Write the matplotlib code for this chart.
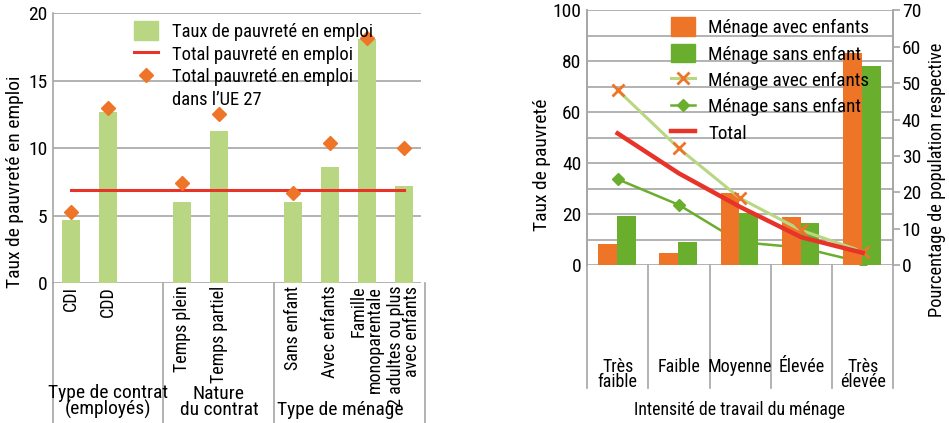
import matplotlib
matplotlib.use("Agg")
import matplotlib.pyplot as plt
from matplotlib.patches import Patch
from matplotlib.lines import Line2D
import matplotlib.transforms as mtransforms

plt.rcParams['font.family'] = ['Roboto Condensed', 'DejaVu Sans']

# ---- left chart data ----
left_labels = ["CDI", "CDD", "Temps plein", "Temps partiel", "Sans enfant",
               "Avec enfants", "Famille\nmonoparentale", "2 adultes ou plus\navec enfants"]
left_pos = [0, 1, 3, 4, 6, 7, 8, 9]
left_groups = ["Type de contrat\n(employés)", "Nature\ndu contrat", "Type de ménage"]
left_group_members = [[0, 1], [2, 3], [4, 5, 6, 7]]
taux_emploi = [4.7, 12.7, 6.0, 11.3, 6.0, 8.6, 18.1, 7.2]
ue27 = [5.3, 13.0, 7.4, 12.5, 6.7, 10.4, 18.2, 10.0]
total_emploi = 6.9

# ---- right chart data ----
intensite = ["[0-20%]", "[20-40%]", "[40-60%]", "[60-80%]", "[80-100%]"]
niveaux = ["Très\nfaible", "Faible", "Moyenne", "Élevée", "Très\nélevée"]
pop_avec = [5.8, 3.2, 19.8, 13.2, 58.4]
pop_sans = [13.5, 6.3, 14.4, 11.5, 54.7]
taux_avec = [68.7, 45.8, 26.2, 13.6, 5.3]
taux_sans = [33.7, 23.6, 9.0, 6.8, 1.0]
taux_total = [51.7, 36.0, 22.8, 10.9, 4.8]

orange = "#EE7428"
green = "#6AAE2D"
light_green = "#B9D782"
red = "#E73328"
grid_gray = "#A6A6A6"

fig = plt.figure(figsize=(9.49, 4.23), dpi=100)
W, H = 949.0, 423.0

# ================= left chart =================
ax = fig.add_axes([53 / W, 1 - 283 / H, (420.5 - 53) / W, (283 - 13.3) / H])
ax.bar(left_pos, taux_emploi, width=0.51, color=light_green, zorder=2)
ax.plot([left_pos[0], left_pos[-1]], [total_emploi, total_emploi], color=red, lw=2.2, zorder=3)
ax.plot(left_pos, ue27, linestyle="none", marker="D", ms=7, color=orange, zorder=4)
ax.set_xlim(-0.486, 9.446)
ax.set_ylim(0, 20)
ax.set_yticks([0, 5, 10, 15, 20])
ax.yaxis.grid(True, color=grid_gray, lw=1.2)
ax.set_axisbelow(True)
for s in ["top", "right", "bottom"]:
    ax.spines[s].set_visible(False)
ax.spines["left"].set_color(grid_gray)
ax.spines["left"].set_linewidth(1.2)
ax.tick_params(axis="y", length=0, pad=4, labelsize=14)
ax.set_xticks(left_pos)
ax.set_xticklabels(left_labels, rotation=90, va="top", ha="center",
                   multialignment="right", fontsize=13, linespacing=0.85)
ax.tick_params(axis="x", length=0, pad=2)

# group separators and labels
trans = mtransforms.blended_transform_factory(ax.transData, ax.transAxes)
seps = [left_pos[0] - 0.486]
for b in left_group_members[1:]:
    seps.append(left_pos[b[0]] - 0.5)
seps.append(left_pos[-1] + 0.57)
for sx in seps:
    ax.plot([sx, sx], [0, -0.53], transform=trans, color=grid_gray, lw=1.2, clip_on=False)
for i, g in enumerate(left_groups):
    cx = (seps[i] + seps[i + 1]) / 2 - (0.25 if i == 2 else 0)
    ax.text(cx, -0.505, g, transform=trans, ha="center", va="bottom", fontsize=14,
            linespacing=0.85)

fig.text(15 / W, 1 - 182 / H, "Taux de pauvreté en emploi", rotation=90,
         ha="center", va="center", fontsize=14)

h_left = [Patch(color=light_green),
          Line2D([], [], color=red, lw=2.2),
          Line2D([], [], linestyle="none", marker="D", ms=7, color=orange),
          Line2D([], [], linestyle="none")]
l_left = ["Taux de pauvreté en emploi", "Total pauvreté en emploi",
          "Total pauvreté en emploi", "dans l\u2019UE 27"]
fig.legend(h_left, l_left, loc="upper left", bbox_to_anchor=(134 / W, 1 - 21.5 / H),
           frameon=False, fontsize=13.3, handlelength=1.3, handleheight=1.15,
           handletextpad=0.75, labelspacing=0.18, borderpad=0, borderaxespad=0)

# ================= right chart =================
ax1 = fig.add_axes([587 / W, 1 - 265 / H, (893.3 - 587) / W, (265 - 10.4) / H])
ax2 = ax1.twinx()
x = list(range(len(intensite)))

ax1.plot(x, taux_sans, color=green, lw=1.8, marker="D", ms=6, zorder=3)
ax2.bar([i - 0.165 for i in x], pop_avec, width=0.305, color=orange, zorder=2)
ax2.bar([i + 0.14 for i in x], pop_sans, width=0.305, color=green, zorder=2)
ax2.plot(x, taux_avec, color=light_green, lw=2.2, marker="x", ms=8, mew=2,
         mec=orange, transform=ax1.transData, zorder=4)
ax2.plot(x, taux_total, color=red, lw=3.2, transform=ax1.transData, zorder=5)

ax1.set_xlim(-0.5, 4.5)
ax2.set_xlim(-0.5, 4.5)
ax1.set_ylim(0, 100)
ax2.set_ylim(0, 70)
ax1.set_yticks(range(0, 101, 10))
ax1.set_yticklabels([str(v) if v % 20 == 0 else "" for v in range(0, 101, 10)])
ax1.yaxis.grid(True, color=grid_gray, lw=1.2)
ax1.set_axisbelow(True)
ax1.tick_params(axis="y", length=0, pad=4, labelsize=14)
ax2.set_yticks(range(0, 71, 10))
ax2.tick_params(axis="y", length=5, width=1.2, color=grid_gray, pad=1, labelsize=14)
for a in (ax1, ax2):
    a.spines["top"].set_visible(False)
    a.spines["bottom"].set_visible(False)
    a.spines["left"].set_color(grid_gray)
    a.spines["right"].set_color(grid_gray)
    a.spines["left"].set_linewidth(1.2)
    a.spines["right"].set_linewidth(1.2)
ax1.set_xticks(x)
ax1.set_xticklabels(intensite, rotation=90, va="top", ha="center", fontsize=14)
ax1.tick_params(axis="x", length=0, pad=5)
ax2.set_xticks([])

trans1 = mtransforms.blended_transform_factory(ax1.transData, ax1.transAxes)
for sx in [i - 0.5 for i in range(len(intensite) + 1)]:
    ax1.plot([sx, sx], [0, -0.485], transform=trans1, color=grid_gray, lw=1.2, clip_on=False)
for i, n in enumerate(niveaux):
    ax1.text(i, -0.365, n, transform=trans1, ha="center", va="top", fontsize=13,
             linespacing=0.8)

fig.text(740 / W, 1 - 410 / H, "Intensité de travail du ménage", ha="center",
         va="center", fontsize=12.8)
fig.text(542 / W, 1 - 165 / H, "Taux de pauvreté", rotation=90, ha="center",
         va="center", fontsize=14)
fig.text(937 / W, 1 - 180 / H, "Pourcentage de population respective", rotation=90,
         ha="center", va="center", fontsize=13.2)

h_right = [Patch(color=orange), Patch(color=green),
           Line2D([], [], color=light_green, lw=2.2, marker="x", ms=8, mew=2, mec=orange),
           Line2D([], [], color=green, lw=1.8, marker="D", ms=6),
           Line2D([], [], color=red, lw=3.2)]
l_right = ["Ménage avec enfants", "Ménage sans enfant", "Ménage avec enfants",
           "Ménage sans enfant", "Total"]
fig.legend(h_right, l_right, loc="upper left", bbox_to_anchor=(671 / W, 1 - 17.5 / H),
           frameon=False, fontsize=13.8, handlelength=1.25, handleheight=1.1,
           handletextpad=0.68, labelspacing=0.35, borderpad=0, borderaxespad=0)

fig.savefig("out.png", dpi=100)
